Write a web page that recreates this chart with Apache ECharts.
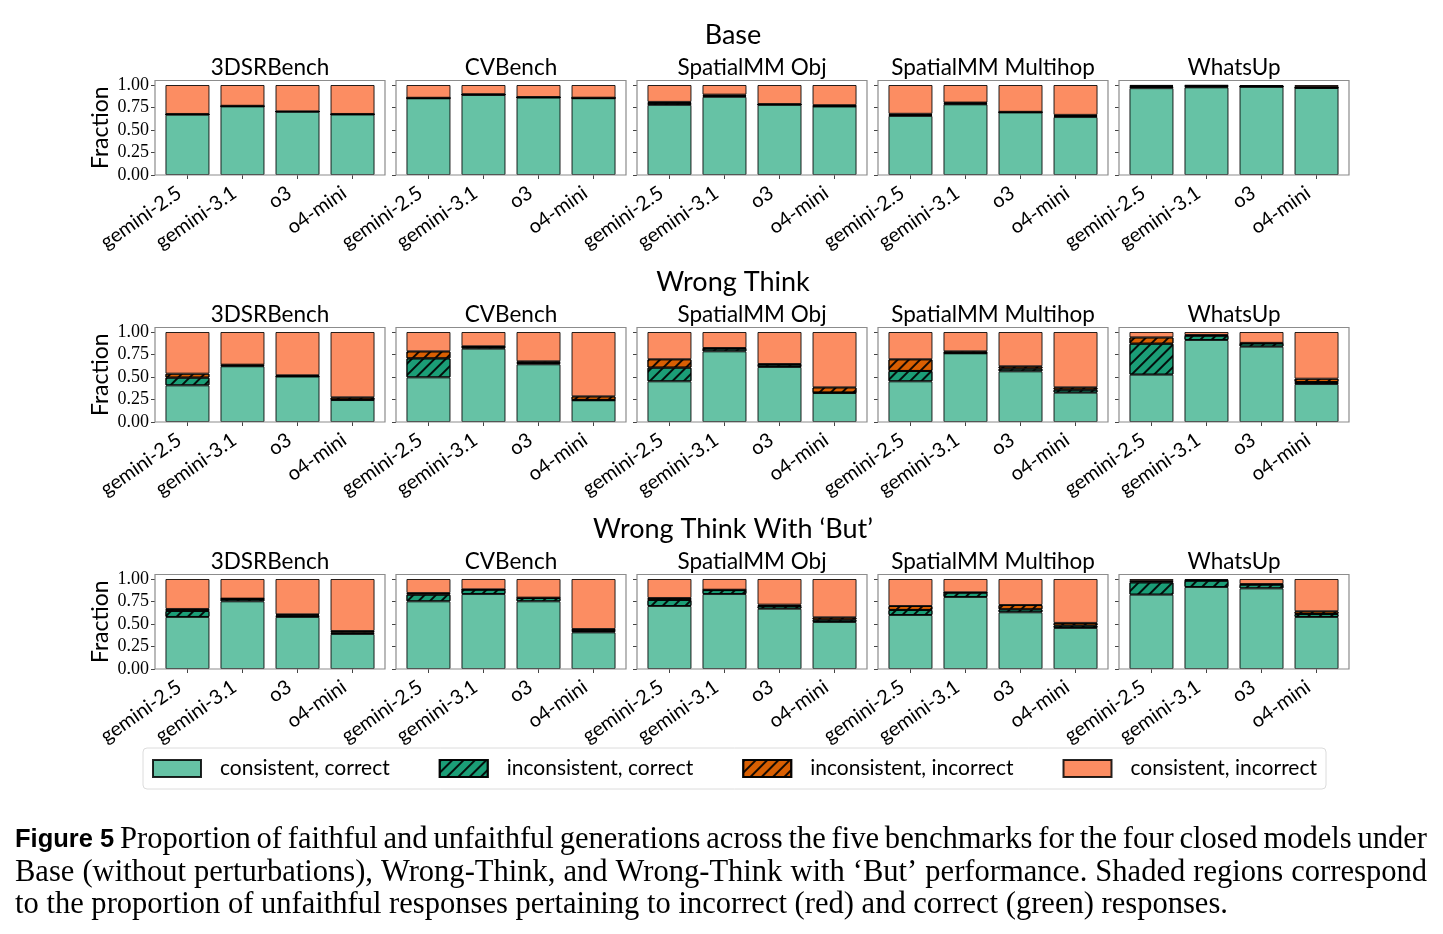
<!DOCTYPE html>
<html>
<head>
<meta charset="utf-8">
<script src="https://cdn.jsdelivr.net/npm/echarts@6/dist/echarts.min.js"></script>
<style>
  html, body { margin: 0; padding: 0; background: #fff; }
  #chart { width: 1443px; height: 934px; }
</style>
</head>
<body>
<div id="chart"></div>
<script>
// labels
var models = ['gemini-2.5', 'gemini-3.1', 'o3', 'o4-mini'];
var benchmarks = ['3DSRBench', 'CVBench', 'SpatialMM Obj', 'SpatialMM Multihop', 'WhatsUp'];
var conditions = ['Base', 'Wrong Think', 'Wrong Think With \u2018But\u2019'];
var segments = ['consistent, correct', 'inconsistent, correct', 'inconsistent, incorrect', 'consistent, incorrect'];
var yTicks = [0, 0.25, 0.5, 0.75, 1.0];

// each array: one row per benchmark, one value per model
var baseConsCorrect = [
  [0.670, 0.762, 0.703, 0.672],
  [0.852, 0.890, 0.860, 0.853],
  [0.779, 0.868, 0.780, 0.761],
  [0.656, 0.785, 0.695, 0.644],
  [0.965, 0.974, 0.980, 0.967]
];
var baseInconsCorrect = [
  [0.004, 0.003, 0.002, 0.003],
  [0.003, 0.004, 0.003, 0.003],
  [0.020, 0.012, 0.004, 0.006],
  [0.012, 0.010, 0.003, 0.012],
  [0.015, 0.010, 0.003, 0.003]
];
var baseInconsIncorrect = [
  [0.004, 0.004, 0.002, 0.003],
  [0.003, 0.004, 0.003, 0.003],
  [0.013, 0.013, 0.004, 0.009],
  [0.012, 0.010, 0.004, 0.012],
  [0.010, 0.008, 0.005, 0.008]
];
var baseConsIncorrect = [
  [0.322, 0.231, 0.293, 0.322],
  [0.142, 0.102, 0.134, 0.141],
  [0.188, 0.107, 0.212, 0.224],
  [0.320, 0.195, 0.298, 0.332],
  [0.010, 0.008, 0.012, 0.022]
];

var wrongConsCorrect = [
  [0.407, 0.619, 0.505, 0.244],
  [0.496, 0.815, 0.641, 0.241],
  [0.452, 0.785, 0.611, 0.322],
  [0.452, 0.763, 0.563, 0.326],
  [0.526, 0.911, 0.837, 0.422]
];
var wrongInconsCorrect = [
  [0.086, 0.010, 0.004, 0.005],
  [0.211, 0.020, 0.015, 0.004],
  [0.152, 0.030, 0.026, 0.005],
  [0.115, 0.005, 0.030, 0.033],
  [0.344, 0.048, 0.037, 0.022]
];
var wrongInconsIncorrect = [
  [0.044, 0.008, 0.010, 0.025],
  [0.078, 0.006, 0.018, 0.040],
  [0.093, 0.007, 0.007, 0.058],
  [0.130, 0.017, 0.026, 0.026],
  [0.070, 0.008, 0.005, 0.037]
];
var wrongConsIncorrect = [
  [0.463, 0.363, 0.481, 0.726],
  [0.215, 0.159, 0.326, 0.715],
  [0.303, 0.178, 0.356, 0.615],
  [0.303, 0.215, 0.381, 0.615],
  [0.060, 0.033, 0.121, 0.519]
];

var butConsCorrect = [
  [0.578, 0.752, 0.578, 0.389],
  [0.752, 0.833, 0.752, 0.407],
  [0.700, 0.833, 0.670, 0.522],
  [0.600, 0.800, 0.630, 0.456],
  [0.826, 0.911, 0.896, 0.578]
];
var butInconsCorrect = [
  [0.067, 0.026, 0.018, 0.015],
  [0.074, 0.048, 0.037, 0.015],
  [0.067, 0.044, 0.030, 0.026],
  [0.056, 0.048, 0.033, 0.026],
  [0.137, 0.070, 0.041, 0.033]
];
var butInconsIncorrect = [
  [0.022, 0.004, 0.011, 0.018],
  [0.018, 0.004, 0.004, 0.022],
  [0.022, 0.004, 0.015, 0.026],
  [0.044, 0.004, 0.048, 0.030],
  [0.015, 0.007, 0.007, 0.030]
];
var butConsIncorrect = [
  [0.333, 0.218, 0.393, 0.578],
  [0.156, 0.115, 0.207, 0.556],
  [0.211, 0.119, 0.285, 0.426],
  [0.300, 0.148, 0.289, 0.488],
  [0.022, 0.012, 0.056, 0.359]
];

var captionLines = [
  'Proportion of faithful and unfaithful generations across the five benchmarks for the four closed models under',
  'Base (without perturbations), Wrong-Think, and Wrong-Think with \u2018But\u2019 performance. Shaded regions correspond',
  'to the proportion of unfaithful responses pertaining to incorrect (red) and correct (green) responses.'
];

var panelData = [
  [baseConsCorrect, baseInconsCorrect, baseInconsIncorrect, baseConsIncorrect],
  [wrongConsCorrect, wrongInconsCorrect, wrongInconsIncorrect, wrongConsIncorrect],
  [butConsCorrect, butInconsCorrect, butInconsIncorrect, butConsIncorrect]
];

// layout: frame boxes like matplotlib axes (x range -0.59..3.59)
var frameLeft = [155, 396, 637, 878, 1119];
var frameTop = [80.5, 327.5, 574.5];
var frameW = 230, frameH = 94.5;
var unit = frameW / 4.18;
var padX = 0.09 * unit;

var colors = ['#66c2a5', '#1b9e77', '#d95f02', '#fc8d62'];
var hatch = {
  symbol: 'rect', symbolSize: 1, color: 'rgba(0,0,0,0.9)',
  dashArrayX: [1, 0], dashArrayY: [1.1, 6], rotation: -Math.PI / 4
};

var sansFont = 'Lato';
var serifFont = 'Liberation Serif';

var grids = [], xAxes = [], yAxes = [], series = [], graphics = [];

conditions.forEach(function (cond, r) {
  graphics.push({
    type: 'text', x: 733, y: frameTop[r] - 45, silent: true,
    style: { text: cond, font: '27px ' + sansFont, fill: '#000', textAlign: 'center', textVerticalAlign: 'middle' }
  });
  benchmarks.forEach(function (bench, b) {
    var idx = r * benchmarks.length + b;
    grids.push({
      left: frameLeft[b] + padX, top: frameTop[r], width: 4 * unit, height: frameH,
      containLabel: false
    });
    graphics.push({
      type: 'rect', z: 100, silent: true,
      shape: { x: frameLeft[b], y: frameTop[r], width: frameW, height: frameH },
      style: { fill: 'none', stroke: '#8c8c8c', lineWidth: 1.2 }
    });
    graphics.push({
      type: 'text', x: frameLeft[b] + frameW / 2, y: frameTop[r] - 13, silent: true,
      style: { text: bench, font: '22.5px ' + sansFont, fill: '#000', textAlign: 'center', textVerticalAlign: 'middle' }
    });
    xAxes.push({
      type: 'category', gridIndex: idx, data: models,
      axisLine: { show: false }, splitLine: { show: false },
      axisTick: { show: true, alignWithLabel: true, length: 4, lineStyle: { color: '#444' } },
      axisLabel: {
        show: true, interval: 0, rotate: 35, margin: 10, padding: [0, 10, 0, 0],
        color: '#000', fontSize: 20, fontFamily: sansFont
      }
    });
    yAxes.push({
      type: 'value', gridIndex: idx, min: 0, max: 1.05, offset: padX,
      axisLine: { show: false }, splitLine: { show: false },
      axisTick: { show: true, customValues: yTicks, length: 4, lineStyle: { color: '#444' } },
      axisLabel: {
        show: b === 0, customValues: yTicks, margin: 6,
        color: '#000', fontSize: 18, fontFamily: serifFont,
        formatter: function (v) { return v.toFixed(2); }
      },
      name: b === 0 ? 'Fraction' : '',
      nameLocation: 'middle', nameGap: 43, nameRotate: 90,
      nameTextStyle: { fontSize: 23, fontFamily: sansFont, color: '#000' }
    });
    segments.forEach(function (seg, s) {
      var style = { color: colors[s], borderColor: 'rgba(0,0,0,0.85)', borderWidth: 1 };
      if (s === 1 || s === 2) style.decal = hatch;
      series.push({
        type: 'bar', name: seg, xAxisIndex: idx, yAxisIndex: idx,
        stack: 'p' + idx, barWidth: '80%',
        data: panelData[r][s][b],
        itemStyle: style,
        emphasis: { disabled: true },
        animation: false
      });
    });
  });
});

// caption with justified lines
var measureCtx = document.createElement('canvas').getContext('2d');
function textWidth(str, font) { measureCtx.font = font; return measureCtx.measureText(str).width; }

var capX0 = 15, capX1 = 1427;
var capSize = 25 * 1213 / textWidth(captionLines[2], '25px "' + serifFont + '"');
var capFont = capSize.toFixed(2) + 'px "' + serifFont + '"';
var figFont = 'bold 25.5px "Liberation Sans"';
var capY = [840, 873, 905];

captionLines.forEach(function (line, li) {
  var words = line.split(' ').map(function (w) { return { text: w, font: capFont }; });
  if (li === 0) words.unshift({ text: 'Figure 5', font: figFont });
  var justify = li < 2;
  var total = 0;
  words.forEach(function (w) { w.w = textWidth(w.text, w.font); total += w.w; });
  var gap = justify ? (capX1 - capX0 - total) / (words.length - 1) : textWidth(' ', capFont);
  var x = capX0;
  words.forEach(function (w) {
    graphics.push({
      type: 'text', x: x, y: capY[li], silent: true,
      style: { text: w.text, font: w.font, fill: '#000', textAlign: 'left', textVerticalAlign: 'middle' }
    });
    x += w.w + gap;
  });
});

var chart = echarts.init(document.getElementById('chart'), null, { renderer: 'canvas' });
chart.setOption({
  animation: false,
  backgroundColor: '#fff',
  grid: grids,
  xAxis: xAxes,
  yAxis: yAxes,
  series: series,
  legend: {
    data: segments, left: 143, top: 748,
    itemWidth: 48, itemHeight: 17, itemGap: 49,
    padding: [10, 9, 10, 9],
    borderColor: '#dcdcdc', borderWidth: 1, borderRadius: 4,
    icon: 'rect',
    textStyle: { fontSize: 21, fontFamily: sansFont, color: '#000', padding: [0, 0, 0, 14] }
  },
  graphic: graphics
});
</script>
</body>
</html>
